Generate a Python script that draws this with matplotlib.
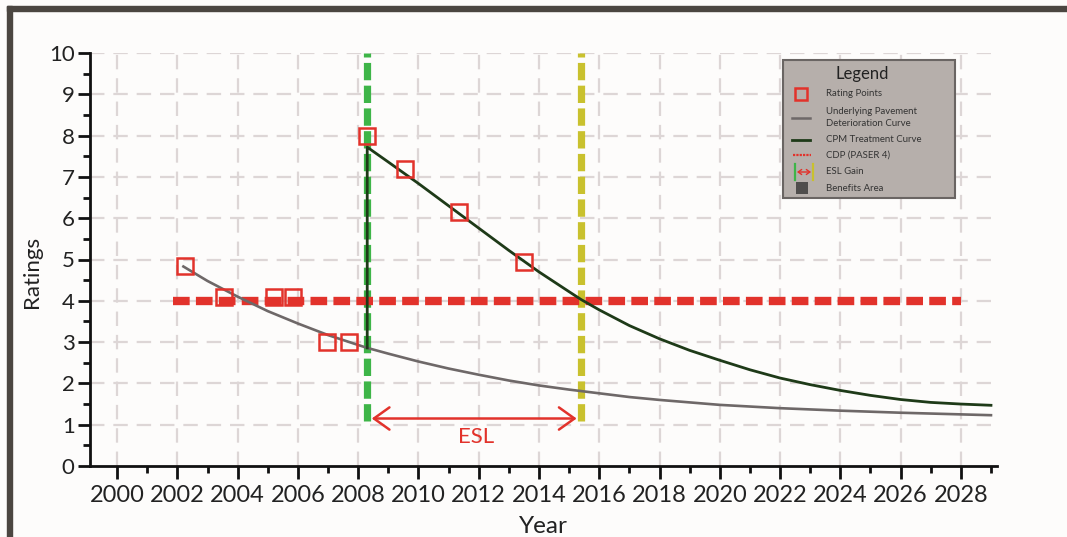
import matplotlib
matplotlib.use("Agg")
import matplotlib.pyplot as plt
from matplotlib.patches import Rectangle, FancyArrowPatch
from matplotlib.lines import Line2D

# ---------------- data ----------------
rating_years = [2002.25, 2003.55, 2005.2, 2005.85, 2006.95, 2007.7, 2008.3, 2009.55, 2011.35, 2013.5]
rating_values = [4.85, 4.1, 4.1, 4.1, 3.0, 3.0, 8.0, 7.2, 6.15, 4.95]

base_years = [2002.2, 2003, 2004, 2005, 2006, 2007, 2008, 2008.3, 2009, 2010, 2011,
              2012, 2013, 2014, 2015, 2016, 2017, 2018, 2020, 2022, 2024, 2026, 2028, 2029]
base_values = [4.83, 4.48, 4.10, 3.75, 3.45, 3.17, 2.93, 2.86, 2.72, 2.53, 2.36,
               2.21, 2.07, 1.95, 1.85, 1.76, 1.67, 1.60, 1.48, 1.40, 1.34, 1.29, 1.25, 1.23]

cpm_years = [2008.3, 2008.3, 2009, 2010, 2011, 2012, 2013, 2014, 2015, 2015.4, 2016, 2017,
             2018, 2019, 2020, 2021, 2022, 2023, 2024, 2025, 2026, 2027, 2028, 2029]
cpm_values = [2.86, 7.72, 7.36, 6.84, 6.30, 5.76, 5.22, 4.70, 4.22, 4.03, 3.78, 3.40,
              3.08, 2.80, 2.56, 2.33, 2.13, 1.97, 1.83, 1.71, 1.61, 1.54, 1.50, 1.47]

cdp_level = 4
cdp_years = [2001.85, 2028.0]
treatment_year = 2008.3
esl_end_year = 2015.4
marker_line_span = [1.1, 10]
esl_arrow_level = 1.15
esl_label_pos = (2011.9, 0.7)

x_major = list(range(2000, 2029, 2))
x_minor = list(range(2001, 2030, 2))
y_major = list(range(0, 11))
y_minor = [v + 0.5 for v in range(0, 10)]

legend_labels = ["Rating Points", "Underlying Pavement\nDeterioration Curve", "CPM Treatment Curve",
                 "CDP (PASER 4)", "ESL Gain", "Benefits Area"]

# ---------------- style ----------------
W, H = 1067, 537
RED = "#e2322b"
DKGREEN = "#1e3a18"
GRAY = "#6e6868"
BGREEN = "#3eb548"
YELLOW = "#c9c12e"
FONT = ["Lato", "DejaVu Sans"]
plt.rcParams['font.family'] = FONT

fig = plt.figure(figsize=(W / 100, H / 100), dpi=100, facecolor="#fdfcfb")
ax = fig.add_axes([90 / W, 1 - 466 / H, (997 - 90) / W, (466 - 53) / H])
ax.set_facecolor("#fdfcfb")
ax.set_xlim(1999.1, 2029.2)
ax.set_ylim(0, 10)

# grid
GRID = "#ddd6d6"
for xv in x_major:
    ax.plot([xv, xv], [0, 10], color=GRID, lw=1.6, ls=(0, (6.5, 4)), zorder=1)
for yv in y_major[1:]:
    ax.plot([1999.1, 2029.0], [yv, yv], color=GRID, lw=1.6, ls=(0, (6.5, 4)), zorder=1)

# CDP line
ax.plot(cdp_years, [cdp_level, cdp_level], color=RED, lw=6, ls=(0, (2.0, 0.75)),
        solid_capstyle="butt", dash_capstyle="butt", zorder=3)

# vertical markers
ax.plot([treatment_year, treatment_year], marker_line_span, color=BGREEN, lw=5.2,
        ls=(0, (2.4, 0.75)), dash_capstyle="butt", zorder=2)
ax.plot([esl_end_year, esl_end_year], marker_line_span, color=YELLOW, lw=5.2,
        ls=(0, (2.4, 0.75)), dash_capstyle="butt", zorder=2)

# curves
ax.plot(base_years, base_values, color=GRAY, lw=1.9, zorder=4, solid_joinstyle="round")
ax.plot(cpm_years, cpm_values, color=DKGREEN, lw=2.0, zorder=5, solid_joinstyle="round")

# rating points
ax.plot(rating_years, rating_values, ls="none", marker="s", ms=11.5, mfc="none",
        mec=RED, mew=1.8, zorder=6)

# ESL arrow
arr = FancyArrowPatch((treatment_year + 0.15, esl_arrow_level), (esl_end_year - 0.15, esl_arrow_level),
                      arrowstyle="<->,head_length=7,head_width=5", color=RED, lw=1.8,
                      mutation_scale=1.6, zorder=6, shrinkA=0, shrinkB=0)
ax.add_patch(arr)
ax.text(esl_label_pos[0], esl_label_pos[1], "ESL", color=RED, fontsize=16,
        ha="center", va="center", zorder=6)

# axes styling
for s in ["top", "right"]:
    ax.spines[s].set_visible(False)
for s in ["left", "bottom"]:
    ax.spines[s].set_linewidth(2.0)
    ax.spines[s].set_color("#111111")
ax.set_xticks(x_major)
ax.set_xticks(x_minor, minor=True)
ax.set_yticks(y_major)
ax.set_yticks(y_minor, minor=True)
ax.tick_params(axis="both", which="major", length=9, width=2.0, color="#111111", direction="out")
ax.tick_params(axis="both", which="minor", length=5, width=2.0, color="#111111", direction="out")
ax.tick_params(axis="x", which="major", labelsize=17, pad=5, labelcolor="#222222")
ax.tick_params(axis="y", which="major", labelsize=16, pad=2, labelcolor="#222222")
ax.set_xlabel("Year", fontsize=17.5, color="#222222", labelpad=7)
ax.set_ylabel("Ratings", fontsize=16, color="#222222")
ax.yaxis.set_label_coords(-0.053, 0.47)

# frame border
fig.patches.append(Rectangle((7 / W, 1 - 11 / H), 1 - 7 / W, 5 / H, transform=fig.transFigure,
                             color="#4b4641", zorder=10))
fig.patches.append(Rectangle((7 / W, 0), 5 / W, 1 - 6 / H, transform=fig.transFigure,
                             color="#4b4641", zorder=10))

# ---------------- legend (manual) ----------------
def fx(px):
    return px / W

def fy(py):
    return 1 - py / H

fig.patches.append(Rectangle((fx(783), fy(198)), (955 - 783) / W, (198 - 60) / H,
                             transform=fig.transFigure, facecolor="#b6afab", edgecolor="#6a6563",
                             lw=1.5, zorder=20))
fig.text(fx(862), fy(74), "Legend", fontsize=12, ha="center", va="center", color="#222222", zorder=21)
text_y = [94, 117.5, 140, 155, 172, 188]
for lab, ty in zip(legend_labels, text_y):
    fig.text(fx(826), fy(ty), lab, fontsize=6.9, ha="left", va="center", color="#333333",
             linespacing=1.3, zorder=21)
# symbols
fig.add_artist(Line2D([fx(801)], [fy(94)], marker="s", ms=9, mfc="none", mec=RED, mew=1.8,
                      transform=fig.transFigure, zorder=22))
fig.add_artist(Line2D([fx(792), fx(810)], [fy(118), fy(118)], color=GRAY, lw=1.8,
                      transform=fig.transFigure, zorder=22))
fig.add_artist(Line2D([fx(792), fx(810)], [fy(140), fy(140)], color=DKGREEN, lw=2.0,
                      transform=fig.transFigure, zorder=22))
fig.add_artist(Line2D([fx(793), fx(811)], [fy(155), fy(155)], color=RED, lw=1.6, ls=(0, (1, 0.5)),
                      transform=fig.transFigure, zorder=22))
fig.add_artist(Line2D([fx(795), fx(795)], [fy(164), fy(180)], color=BGREEN, lw=1.6,
                      transform=fig.transFigure, zorder=22))
fig.add_artist(Line2D([fx(813), fx(813)], [fy(164), fy(180)], color=YELLOW, lw=1.6,
                      transform=fig.transFigure, zorder=22))
fig.add_artist(FancyArrowPatch((fx(797), fy(172)), (fx(811), fy(172)), transform=fig.transFigure,
                               arrowstyle="<->,head_length=2.5,head_width=1.8", color=RED, lw=1.0,
                               shrinkA=0, shrinkB=0, zorder=22))
fig.patches.append(Rectangle((fx(796), fy(194)), 12 / W, 12 / H, transform=fig.transFigure,
                             facecolor="#4f4d4c", edgecolor="none", zorder=22))

fig.savefig("out.png", dpi=100, facecolor=fig.get_facecolor())
